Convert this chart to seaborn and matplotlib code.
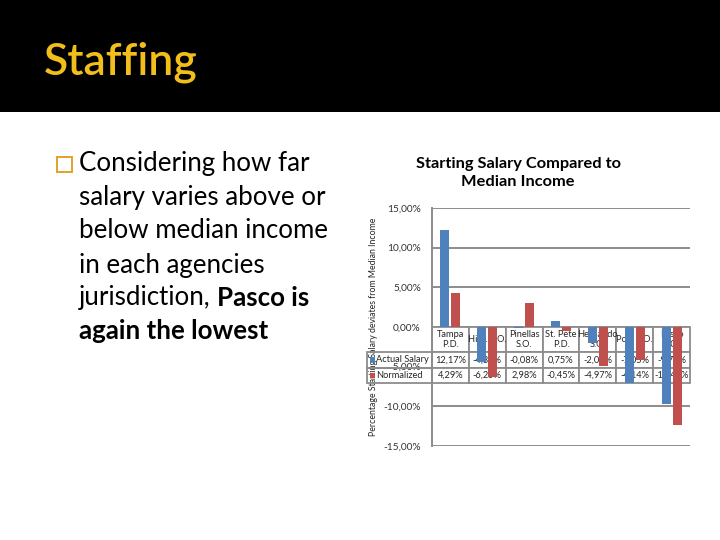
import matplotlib
matplotlib.use("Agg")
import matplotlib.pyplot as plt
from matplotlib.patches import Rectangle
import seaborn as sns
import pandas as pd

# ---------------- data ----------------
categories = ["Tampa\nP.D.", "Hills. S.O.", "Pinellas\nS.O.", "St. Pete\nP.D.",
              "Hernando\nS.O.", "Polk S.O.", "Pasco\nS.O."]
actual_salary = [12.17, -4.35, -0.08, 0.75, -2.03, -7.05, -9.73]
normalized = [4.29, -6.25, 2.98, -0.45, -4.97, -4.14, -12.41]
series_names = ["Actual Salary", "Normalized"]
y_ticks = [15, 10, 5, 0, -5, -10, -15]

title_text = "Starting Salary Compared to\nMedian Income"
ylabel_text = "Percentage Starting Salary deviates from Median Income"
slide_title = "Staffing"

df = pd.DataFrame({
    "cat": categories * 2,
    "val": actual_salary + normalized,
    "series": [series_names[0]] * len(categories) + [series_names[1]] * len(categories),
})

sns.set_theme(style="white")
plt.rcParams["font.family"] = ["Lato", "DejaVu Sans"]
plt.rcParams["text.color"] = "black"

W, H = 720, 540
fig = plt.figure(figsize=(7.2, 5.4), dpi=100)
fig.patch.set_facecolor("white")

def fx(px):
    return px / W

def fy(py):
    return 1 - py / H

# header band
fig.add_artist(Rectangle((0, fy(112)), 1, 112 / H, transform=fig.transFigure,
                         facecolor="black", edgecolor="none", zorder=0))
fig.text(fx(44), fy(62), slide_title, color="#F2BE1A", fontsize=32,
         fontweight="semibold", va="center", ha="left")

# bullet + text
fig.add_artist(Rectangle((fx(57), fy(172)), 15 / W, 15 / H, transform=fig.transFigure,
                         facecolor="none", edgecolor="#E3A12B", lw=1.4))
lines = ["Considering how far", "salary varies above or", "below median income",
         "in each agencies"]
ys = [164, 198, 231, 265, 298, 331]
tsize = 18.6
for ln, yy in zip(lines, ys):
    fig.text(fx(79), fy(yy), ln, fontsize=tsize, va="center", ha="left", color="black")
t1 = fig.text(fx(79), fy(ys[4]), "jurisdiction, ", fontsize=tsize, va="center",
              ha="left", color="black")
renderer = fig.canvas.get_renderer()
bb = t1.get_window_extent(renderer)
fig.text(bb.x1 / W, fy(ys[4]), "Pasco is", fontsize=tsize, va="center", ha="left",
         fontweight="bold", color="black")
fig.text(fx(79), fy(ys[5]), "again the lowest", fontsize=tsize, va="center", ha="left",
         fontweight="bold", color="black")

# ---------------- chart ----------------
ax = fig.add_axes([fx(432), fy(446), fx(690) - fx(432), (446 - 208) / H])
ax.set_facecolor("none")
sns.barplot(data=df, x="cat", y="val", hue="series", order=categories,
            hue_order=series_names, palette=["#4F81BD", "#C0504D"],
            width=0.6, gap=0.18, ax=ax, zorder=5, legend=False, errorbar=None,
            linewidth=0, saturation=1)
ax.set_ylim(-15, 15)
ax.set_xlim(-0.5, len(categories) - 0.5)
ax.set_yticks(y_ticks)
ax.set_yticklabels([f"{t:.2f}%".replace(".", ",") for t in y_ticks],
                   fontsize=7.3, color="#333333")
ax.tick_params(axis="y", length=0, pad=8)
ax.set_xticks([])
ax.set_xlabel("")
ax.set_ylabel(ylabel_text, fontsize=6.3, labelpad=4, color="#262626")
ax.yaxis.label.set_zorder(6)
for s in ["top", "right", "bottom"]:
    ax.spines[s].set_visible(False)
ax.spines["left"].set_color("#8C8C8C")
ax.spines["left"].set_linewidth(1.4)
for t in y_ticks:
    ax.axhline(t, color="#8C8C8C", lw=1.4, zorder=1)
fig.text(fx(518), fy(173), title_text, fontsize=11.8, fontweight="bold",
         ha="center", va="center", color="black", linespacing=1.4)

# data table (drawn in data coordinates, beneath bars)
px_per_y = (446 - 208) / 30.0
row_bounds = [0, -(352 - 327) / px_per_y, -(368 - 327) / px_per_y, -(383 - 327) / px_per_y]
px_per_x = (690 - 432) / len(categories)
left_extent = (432 - 367) / px_per_x
grey = "#8C8C8C"

def cell(x0, x1, y0, y1, fill="white"):
    ax.add_patch(Rectangle((x0, y1), x1 - x0, y0 - y1, facecolor=fill,
                           edgecolor=grey, lw=1.3, zorder=2, clip_on=False))

tfs = 6.7
for i, c in enumerate(categories):
    cell(i - 0.5, i + 0.5, row_bounds[0], row_bounds[1])
    ax.text(i, (row_bounds[0] + row_bounds[1]) / 2, c, ha="center", va="center",
            fontsize=tfs, zorder=3, linespacing=1.2, color="#262626")
    for r, vals in enumerate([actual_salary, normalized]):
        cell(i - 0.5, i + 0.5, row_bounds[r + 1], row_bounds[r + 2])
        ax.text(i, (row_bounds[r + 1] + row_bounds[r + 2]) / 2,
                f"{vals[i]:.2f}%".replace(".", ","), ha="center", va="center",
                fontsize=tfs, zorder=3, color="#262626")

x_left = -0.5 - left_extent
for r, (name, col) in enumerate(zip(series_names, ["#4F81BD", "#C0504D"])):
    cell(x_left, -0.5, row_bounds[r + 1], row_bounds[r + 2], fill="none")
    ym = (row_bounds[r + 1] + row_bounds[r + 2]) / 2
    ax.add_patch(Rectangle((x_left + 0.08, ym - 0.35), 0.13, 0.7, facecolor=col,
                           edgecolor="none", zorder=3, clip_on=False))
    ax.text(x_left + 0.25, ym, name, ha="left", va="center", fontsize=tfs,
            zorder=3, color="#262626", clip_on=False)

fig.savefig("out.png", dpi=100)
